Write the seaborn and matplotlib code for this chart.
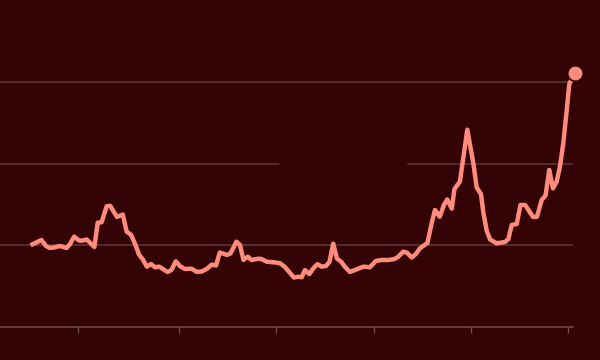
import matplotlib
matplotlib.use("Agg")
import matplotlib.pyplot as plt
import seaborn as sns
import pandas as pd

years = [1997.37, 1997.93, 1998.16, 1998.37, 1998.62, 1998.88, 1999.22, 1999.39, 1999.61, 1999.86,
         2000.01, 2000.25, 2000.46, 2000.65, 2000.82, 2001.02, 2001.28, 2001.46, 2001.81, 2002.11,
         2002.31, 2002.53, 2002.73, 2002.94, 2003.14, 2003.35, 2003.56, 2003.76, 2003.99, 2004.19,
         2004.41, 2004.61, 2004.83, 2005.05, 2005.30, 2005.65, 2005.90, 2006.16, 2006.42, 2006.68,
         2006.90, 2007.09, 2007.46, 2007.64, 2007.95, 2008.13, 2008.31, 2008.53, 2008.73, 2009.07,
         2009.24, 2009.50, 2009.93, 2010.19, 2010.44, 2010.68, 2010.90, 2011.13, 2011.30, 2011.47,
         2011.69, 2011.90, 2012.11, 2012.33, 2012.55, 2012.73, 2012.92, 2013.11, 2013.34, 2013.53,
         2013.78, 2014.13, 2014.47, 2014.81, 2015.11, 2015.41, 2015.75, 2016.07, 2016.26, 2016.52,
         2016.71, 2016.95, 2017.17, 2017.38, 2017.76, 2017.98, 2018.15, 2018.39, 2018.61, 2018.78,
         2019.01, 2019.15, 2019.43, 2019.81, 2020.12, 2020.29, 2020.51, 2020.64, 2020.81, 2020.98,
         2021.32, 2021.75, 2021.92, 2022.09, 2022.35, 2022.54, 2022.78, 2023.19, 2023.39, 2023.63,
         2023.83, 2024.02, 2024.21, 2024.40, 2024.57, 2024.74, 2024.92, 2025.05, 2025.33]

values = [99.8, 106.3, 98.9, 96.4, 97.3, 98.9, 96.4, 101.0, 110.3, 105.6,
          105.4, 106.9, 102.2, 97.7, 127.5, 128.0, 147.6, 148.2, 134.5, 137.5,
          116.4, 112.8, 102.0, 88.5, 82.3, 73.5, 76.8, 72.8, 73.5, 70.3,
          67.0, 69.4, 80.1, 74.1, 70.7, 71.0, 67.2, 67.6, 70.7, 76.0,
          75.0, 90.9, 87.9, 89.7, 104.2, 100.1, 81.7, 85.8, 81.7, 83.3,
          82.9, 79.6, 78.7, 77.7, 73.1, 66.4, 60.2, 61.2, 60.5, 69.4,
          64.5, 71.5, 76.6, 73.5, 74.4, 79.3, 101.7, 83.6, 79.3, 73.1,
          67.0, 70.3, 73.5, 72.8, 80.5, 81.7, 81.7, 82.9, 85.8, 91.9,
          90.7, 84.8, 89.1, 96.1, 102.6, 127.1, 143.1, 134.8, 149.2, 156.0,
          144.7, 168.8, 178.0, 241.6, 200.4, 170.7, 162.7, 139.0, 117.3, 106.9,
          102.2, 103.8, 107.5, 124.7, 125.9, 149.2, 149.2, 134.5, 134.8, 155.3,
          160.9, 192.2, 169.5, 177.8, 196.2, 224.9, 265.8, 297.7, 311.2]

tick_years = [1999.82, 2005, 2010, 2015, 2020, 2025]
grid_values = [100, 200, 300]

BG = "#330305"
LINE = "#fe8b7b"
GRID = "#5e3a3a"
AXIS = "#6e4e4e"

df = pd.DataFrame({"year": years, "value": values})

sns.set_style("white")
fig = plt.figure(figsize=(6, 3.6), dpi=100, facecolor=BG)
ax = fig.add_axes([0, 0.0928, 573 / 600, 0.9167 - 0.0928])
ax.set_facecolor(BG)

for g in grid_values:
    if g == 200:
        ax.axhline(g, xmin=0, xmax=279 / 573, color=GRID, lw=1.1, zorder=1)
        ax.axhline(g, xmin=408 / 573, xmax=1, color=GRID, lw=1.1, zorder=1)
    else:
        ax.axhline(g, color=GRID, lw=1.1, zorder=1)

sns.lineplot(data=df, x="year", y="value", color=LINE, lw=3.2, ax=ax,
             zorder=3, solid_joinstyle="round", solid_capstyle="butt")
sns.scatterplot(data=df.iloc[[-1]], x="year", y="value", color=LINE, s=125,
                edgecolor=BG, linewidth=1.2, ax=ax, zorder=4, clip_on=False)

ax.set_xlim(1995.80, 2025.24)
ax.set_ylim(0, 363.9)
ax.set_xticks(tick_years)
ax.set_yticks([])
ax.set_xlabel("")
ax.set_ylabel("")
ax.tick_params(axis="x", which="both", bottom=True, length=4.3, width=1.0,
               color=AXIS, labelbottom=False, direction="out")
for s in ["top", "left", "right"]:
    ax.spines[s].set_visible(False)
ax.spines["bottom"].set_color(AXIS)
ax.spines["bottom"].set_linewidth(1.1)

fig.savefig("out.png", dpi=100, facecolor=BG)
